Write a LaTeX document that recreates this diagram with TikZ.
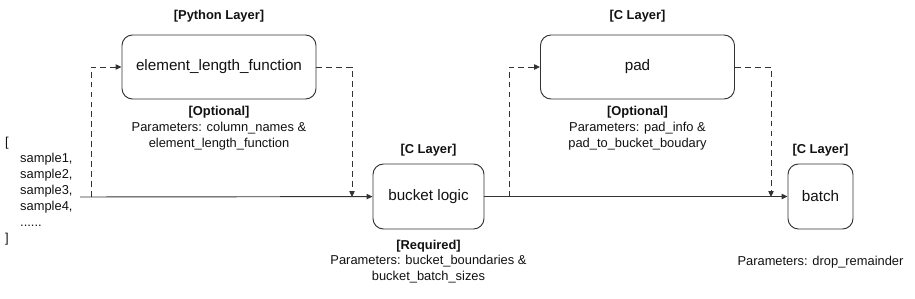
\documentclass[tikz,border=0pt]{standalone}
\usepackage{fontspec}
\setmainfont{Liberation Sans}
\usepackage{xcolor}
\usepackage{tikz}
\usetikzlibrary{arrows.meta, positioning}
\definecolor{bkLine}{HTML}{333333}
\definecolor{bkText}{HTML}{111111}
\tikzset{
  bk-op/.style={
    rectangle, rounded corners=9pt, draw=bkLine, line width=0.8pt, fill=white,
    minimum width=5.82cm, minimum height=1.92cm, align=center,
    text=bkText, font=\fontsize{13}{15}\selectfont
  },
  bk-layer/.style={inner sep=0pt, text=bkText, font=\fontsize{11}{13}\selectfont\bfseries},
  bk-param/.style={inner sep=0pt, align=center, text=bkText, font=\fontsize{11}{13.6}\selectfont},
  bk-flow/.style={-{Triangle[length=5pt,width=4.5pt]}, line width=0.8pt, draw=bkLine},
  bk-flow-dashed/.style={bk-flow, dash pattern=on 5pt off 3.5pt},
}

\begin{document}
\begin{tikzpicture}[x=0.03cm, y=-0.03cm, node distance=0.35cm]
  \useasboundingbox (0,0) rectangle (915,298);

  % input samples
  \node[bk-param, align=left, anchor=west] (data) at (5,191)
    {[\\\hspace*{0.45cm}sample1,\\\hspace*{0.45cm}sample2,\\\hspace*{0.45cm}sample3,\\\hspace*{0.45cm}sample4,\\\hspace*{0.45cm}......\\]};
  \coordinate (in) at (80,197);
  \coordinate (s1) at (91,197);
  \coordinate (j1) at (352,197);
  \coordinate (s2) at (509,197);
  \coordinate (j2) at (771,197);

  % operators
  \node[bk-op] (elf) at (219,67) {element\_length\_function};
  \node[bk-op, minimum width=3.33cm, minimum height=1.95cm] (bucket) at (428.5,196.5) {bucket logic};
  \node[bk-op] (pad) at (637.5,67) {pad};
  \node[bk-op, minimum width=1.95cm, minimum height=1.95cm] (batch) at (820.5,196.5) {batch};

  % layer tags
  \node[bk-layer, above=0.35cm of elf] (elfL) {[Python Layer]};
  \node[bk-layer, above=0.2cm of bucket] (bucketL) {[C Layer]};
  \node[bk-layer, above=0.35cm of pad] (padL) {[C Layer]};
  \node[bk-layer, above=0.2cm of batch] (batchL) {[C Layer]};

  % parameters
  \node[bk-param, below=0.2cm of elf] (elfP)
    {\textbf{[Optional]}\\Parameters: column\_names \&\\element\_length\_function};
  \node[bk-param, below=0.3cm of bucket] (bucketP)
    {\textbf{[Required]}\\Parameters: bucket\_boundaries \&\\bucket\_batch\_sizes};
  \node[bk-param, below=0.2cm of pad] (padP)
    {\textbf{[Optional]}\\Parameters: pad\_info \&\\pad\_to\_bucket\_boudary};
  \node[bk-param, below=0.8cm of batch] (batchP) {Parameters: drop\_remainder};

  \draw[bk-flow] (in) -- (bucket);
  \draw[bk-flow] (bucket) -- (batch);
  \draw[bk-flow-dashed] (s1) |- (elf.west);
  \draw[bk-flow-dashed] (elf.east) -| (j1);
  \draw[bk-flow-dashed] (s2) |- (pad.west);
  \draw[bk-flow-dashed] (pad.east) -| (j2);

\end{tikzpicture}
\end{document}
